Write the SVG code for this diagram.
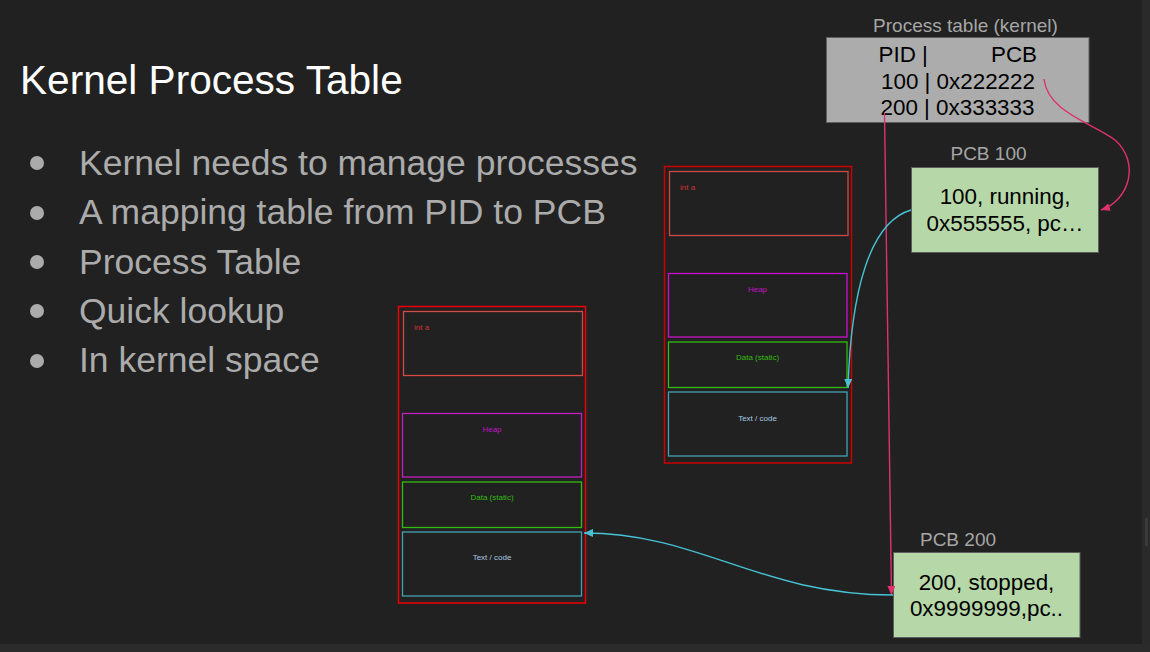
<svg xmlns="http://www.w3.org/2000/svg" width="1150" height="652" viewBox="0 0 1150 652">
<defs>
<style>
.sans{font-family:"Liberation Sans",Arial,sans-serif}
.bul{font-size:35.5px;fill:#ababab}
.lbl{font-size:19px;fill:#a6a6a6;text-anchor:middle}
.cell{font-size:22.4px;fill:#000}
.pcb{fill:#b6d7a8;stroke:#5c5c5c;stroke-width:1}
.tiny{font-size:8px}
.pink{fill:none;stroke:#e0306e;stroke-width:1.4}
.teal{fill:none;stroke:#46c2d4;stroke-width:1.4}
</style>
<marker id="ap" markerWidth="10" markerHeight="8" refX="9" refY="4" orient="auto" markerUnits="userSpaceOnUse"><path d="M0,0 L9,4 L0,8 Z" fill="#e0306e"/></marker>
<marker id="at" markerWidth="10" markerHeight="8" refX="9" refY="4" orient="auto" markerUnits="userSpaceOnUse"><path d="M0,0 L9,4 L0,8 Z" fill="#46c2d4"/></marker>
</defs>
<rect x="0" y="0" width="1150" height="652" fill="#212121"/>
<rect x="1142" y="0" width="8" height="652" fill="#2a2a2a"/>
<rect x="0" y="644" width="1150" height="8" fill="#2b2b2b"/>
<rect x="1145" y="518" width="3" height="28" fill="#3a3a3a"/>

<g id="title" class="sans"><text x="20" y="94" font-size="40.6" fill="#ffffff">Kernel Process Table</text></g>
<g id="bullets" class="sans bul">
<circle cx="37" cy="163" r="7" fill="#ababab"/><text x="79" y="175">Kernel needs to manage processes</text>
<circle cx="37" cy="213" r="7" fill="#ababab"/><text x="79" y="224">A mapping table from PID to PCB</text>
<circle cx="37" cy="262" r="7" fill="#ababab"/><text x="79" y="274">Process Table</text>
<circle cx="37" cy="311" r="7" fill="#ababab"/><text x="79" y="323">Quick lookup</text>
<circle cx="37" cy="361" r="7" fill="#ababab"/><text x="79" y="372">In kernel space</text>
</g>

<g id="mem1" class="sans tiny">
<rect x="664.5" y="166.5" width="187" height="296.5" fill="none" stroke="#cc0000" stroke-width="1.5"/>
<rect x="669.5" y="171.5" width="178.5" height="64" fill="none" stroke="#cc4a44" stroke-width="1.3"/>
<text x="680" y="190" fill="#cc3333">int a</text>
<rect x="668.5" y="273.5" width="178.5" height="63.5" fill="none" stroke="#cc11cc" stroke-width="1.3"/>
<text x="757.5" y="292" fill="#c010c0" text-anchor="middle">Heap</text>
<rect x="668.5" y="342" width="178.5" height="45.5" fill="none" stroke="#33bb11" stroke-width="1.3"/>
<text x="757.5" y="360" fill="#33bb11" text-anchor="middle">Data (static)</text>
<rect x="668.5" y="392" width="178.5" height="64" fill="none" stroke="#45a0b2" stroke-width="1.3"/>
<text x="757.5" y="421" fill="#a8c8e0" text-anchor="middle">Text / code</text>
</g>

<g id="mem2" class="sans tiny">
<rect x="398.5" y="306.5" width="187" height="296.5" fill="none" stroke="#ee0000" stroke-width="1.5"/>
<rect x="403.5" y="311.5" width="179" height="64" fill="none" stroke="#d44a44" stroke-width="1.3"/>
<text x="414" y="330" fill="#cc3333">int a</text>
<rect x="402.5" y="413.5" width="179" height="63.5" fill="none" stroke="#c020c0" stroke-width="1.3"/>
<text x="492" y="432" fill="#c010c0" text-anchor="middle">Heap</text>
<rect x="402.5" y="482" width="179" height="45.5" fill="none" stroke="#33bb11" stroke-width="1.3"/>
<text x="492" y="500" fill="#33bb11" text-anchor="middle">Data (static)</text>
<rect x="402.5" y="532" width="179" height="64" fill="none" stroke="#45a0b2" stroke-width="1.3"/>
<text x="492" y="560" fill="#a8c8e0" text-anchor="middle">Text / code</text>
</g>

<g id="ptable" class="sans">
<text class="lbl" x="965.5" y="31.5">Process table (kernel)</text>
<rect x="826.5" y="37.5" width="262.5" height="85" fill="#acacac" stroke="#5f5f5f" stroke-width="1"/>
<text class="cell"><tspan x="878.5" y="62">PID |</tspan><tspan x="991" y="62">PCB</tspan></text>
<text class="cell" x="958" y="88.5" text-anchor="middle">100 | 0x222222</text>
<text class="cell" x="957.5" y="114.5" text-anchor="middle">200 | 0x333333</text>
</g>

<g id="pcb100" class="sans">
<text class="lbl" x="988.5" y="160">PCB 100</text>
<rect class="pcb" x="911.5" y="167.5" width="187" height="85"/>
<text class="cell" x="1005" y="204" text-anchor="middle">100, running,</text>
<text class="cell" x="1005" y="231" text-anchor="middle">0x555555, pc…</text>
</g>

<g id="pcb200" class="sans">
<text class="lbl" x="958" y="545.5">PCB 200</text>
<rect class="pcb" x="893.5" y="552.5" width="186.5" height="85"/>
<text class="cell" x="986.5" y="589.5" text-anchor="middle">200, stopped,</text>
<text class="cell" x="986.5" y="615.5" text-anchor="middle">0x9999999,pc..</text>
</g>

<g id="connectors">
<path class="pink" d="M1044,79 C1048,112 1090,122 1115,140 C1140,162 1130,200 1101,210" marker-end="url(#ap)"/>
<path class="pink" d="M884.5,113 L891.5,595" marker-end="url(#ap)"/>
<path class="teal" d="M911,210 C870,222 851,290 848,388" marker-end="url(#at)"/>
<path class="teal" d="M893,595 C760,595 700,533 584,533" marker-end="url(#at)"/>
</g>
</svg>
